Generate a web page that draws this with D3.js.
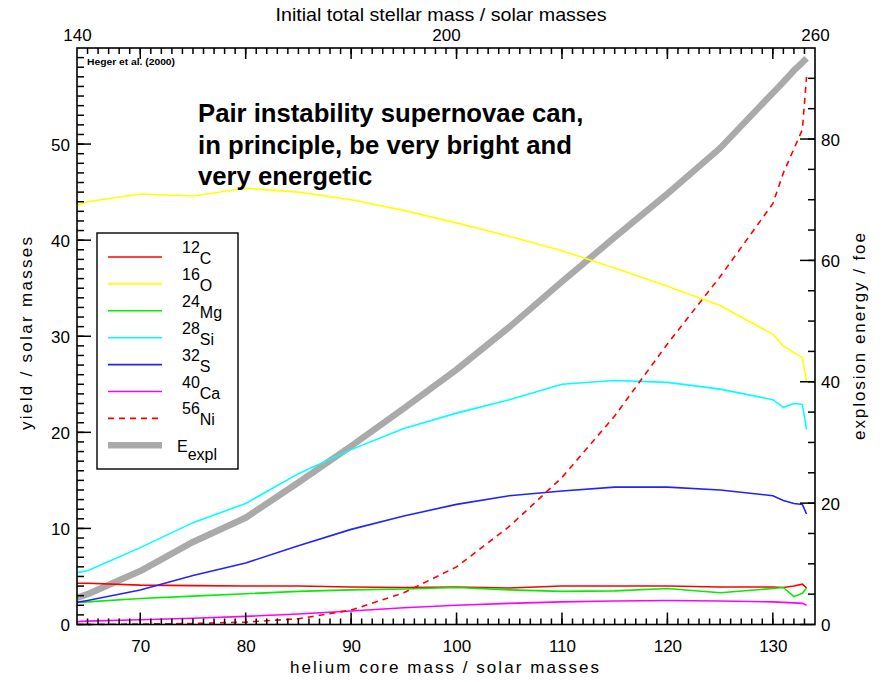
<!DOCTYPE html>
<html>
<head>
<meta charset="utf-8">
<script src="https://cdn.jsdelivr.net/npm/d3@7"></script>
<style>
  html, body { margin: 0; padding: 0; background: #fff; }
  svg { display: block; font-family: "Liberation Sans", Arial, Helvetica, sans-serif; }
</style>
</head>
<body>
<svg id="chart" width="886" height="682"></svg>
<script>
// Helium core mass grid (solar masses)
const heCoreMass = [64, 65, 70, 75, 80, 85, 90, 95, 100, 105, 110, 115, 120, 125, 130, 131, 132, 132.8, 133.2];

// Nucleosynthesis yields (solar masses)
const yieldC12  = [4.3, 4.3, 4.1, 4.05, 4.0, 4.0, 3.9, 3.85, 3.9, 3.8, 4.0, 4.0, 4.0, 3.9, 3.9, 3.85, 4.0, 4.2, 3.8];
const yieldO16  = [43.6, 44.0, 44.8, 44.6, 45.4, 45.0, 44.2, 43.1, 41.8, 40.4, 38.9, 37.1, 35.2, 33.2, 30.2, 29.0, 28.3, 27.8, 25.2];
const yieldMg24 = [2.3, 2.35, 2.7, 2.95, 3.2, 3.45, 3.6, 3.7, 3.85, 3.6, 3.45, 3.5, 3.75, 3.3, 3.75, 3.85, 2.9, 3.25, 3.8];
const yieldSi28 = [5.4, 5.6, 8.0, 10.6, 12.6, 15.7, 18.2, 20.4, 22.0, 23.4, 25.0, 25.4, 25.2, 24.5, 23.4, 22.6, 23.0, 22.9, 20.3];
const yieldS32  = [2.3, 2.5, 3.6, 5.1, 6.4, 8.2, 9.9, 11.3, 12.5, 13.4, 13.9, 14.3, 14.3, 14.0, 13.4, 12.9, 12.6, 12.5, 11.5];
const yieldCa40 = [0.3, 0.35, 0.5, 0.65, 0.85, 1.1, 1.4, 1.75, 2.0, 2.2, 2.35, 2.45, 2.5, 2.45, 2.35, 2.3, 2.25, 2.2, 2.0];
const yieldNi56 = [0.0, 0.0, 0.05, 0.1, 0.25, 0.6, 1.5, 3.3, 6.0, 10.2, 15.3, 21.7, 29.2, 36.2, 43.8, 47.0, 49.5, 51.5, 57.0];

// Explosion energy (foe)
const explosionEnergy = [4.4, 5.0, 8.8, 13.6, 17.6, 23.4, 29.4, 35.6, 42.0, 49.0, 56.5, 63.8, 71.0, 78.5, 87.6, 89.4, 91.3, 92.6, 93.3];

// Tick values
const bottomMajor = [70, 80, 90, 100, 110, 120, 130];
const bottomMinor = d3.range(65, 134);
const leftMajor = [0, 10, 20, 30, 40, 50];
const leftMinor = d3.range(1, 60);
const rightMajor = [0, 20, 40, 60, 80];
const rightMinor = d3.range(5, 95, 5);
const topLabels = [140, 200, 260];

const isotopes = [
  { mass: "12", el: "C",  values: yieldC12,  color: "#ff0000", dash: null },
  { mass: "16", el: "O",  values: yieldO16,  color: "#ffff00", dash: null },
  { mass: "24", el: "Mg", values: yieldMg24, color: "#00ee00", dash: null },
  { mass: "28", el: "Si", values: yieldSi28, color: "#00ffff", dash: null },
  { mass: "32", el: "S",  values: yieldS32,  color: "#2222ff", dash: null },
  { mass: "40", el: "Ca", values: yieldCa40, color: "#ff00ff", dash: null },
  { mass: "56", el: "Ni", values: yieldNi56, color: "#ff0000", dash: "6,5" }
];

const svg = d3.select("#chart");
const L = 77, R = 815, T = 48, B = 624.5;

const x = d3.scaleLinear().domain([64, 134]).range([L, R]);
const xTop = d3.scaleLinear().domain([140, 260]).range([L, R]);
const yL = d3.scaleLinear().domain([0, 60]).range([B, T]);
const yR = d3.scaleLinear().domain([0, 95]).range([B, T]);

const plot = svg.append("g");
const pts = vals => vals.map((v, i) => [heCoreMass[i], v]);

// Explosion energy (right axis), drawn underneath the yields
plot.append("path")
  .datum(pts(explosionEnergy))
  .attr("fill", "none")
  .attr("stroke", "#aaaaaa")
  .attr("stroke-width", 6.5)
  .attr("stroke-linejoin", "round")
  .attr("d", d3.line().x(d => x(d[0])).y(d => yR(d[1])));

// Isotope yields (left axis)
isotopes.forEach(s => {
  plot.append("path")
    .datum(pts(s.values))
    .attr("fill", "none")
    .attr("stroke", s.color)
    .attr("stroke-width", 1.6)
    .attr("stroke-dasharray", s.dash)
    .attr("d", d3.line().x(d => x(d[0])).y(d => yL(d[1])));
});

// Inward tick marks
const tickLayer = svg.append("g").attr("stroke", "black").attr("stroke-width", 1.5);
function hTicks(values, scale, y0, len) {
  tickLayer.append("g").selectAll("line").data(values).join("line")
    .attr("x1", d => scale(d)).attr("x2", d => scale(d))
    .attr("y1", y0).attr("y2", y0 + len);
}
function vTicks(values, scale, x0, len) {
  tickLayer.append("g").selectAll("line").data(values).join("line")
    .attr("y1", d => scale(d)).attr("y2", d => scale(d))
    .attr("x1", x0).attr("x2", x0 + len);
}
hTicks(bottomMinor, x, B, -6);
hTicks(bottomMajor, x, B, -12);
hTicks(bottomMinor, x, T, 6);
hTicks(bottomMajor, x, T, 11);
vTicks(leftMinor, yL, L, 7);
vTicks(leftMajor, yL, L, 14);
vTicks(rightMinor, yR, R, -7);
vTicks(rightMajor, yR, R, -15);

// Tick labels
function labelAxis(gen, tx, ty, dy) {
  const g = svg.append("g").attr("transform", `translate(${tx},${ty})`).call(gen);
  g.select(".domain").remove();
  g.selectAll(".tick line").remove();
  g.selectAll(".tick text").attr("fill", "#000").style("font-size", "17px");
  if (dy != null) g.selectAll(".tick text").attr("dy", dy);
  return g;
}
labelAxis(d3.axisBottom(x).tickValues(bottomMajor).tickSize(0).tickPadding(15), 0, B);
labelAxis(d3.axisTop(xTop).tickValues(topLabels).tickSize(0).tickPadding(7), 0, T, "0");
labelAxis(d3.axisLeft(yL).tickValues(leftMajor).tickSize(0).tickPadding(7), L, 0, "0.36em");
labelAxis(d3.axisRight(yR).tickValues(rightMajor).tickSize(0).tickPadding(6), R, 0, "0.36em");

// Frame
svg.append("rect")
  .attr("x", L).attr("y", T).attr("width", R - L).attr("height", B - T)
  .attr("fill", "none").attr("stroke", "#000").attr("stroke-width", 1.6);

// Axis titles
svg.append("text").attr("x", 441).attr("y", 21).attr("text-anchor", "middle")
  .attr("textLength", 331).attr("lengthAdjust", "spacingAndGlyphs")
  .style("font-size", "19px").text("Initial total stellar mass / solar masses");

svg.append("text").attr("x", 444.5).attr("y", 673).attr("text-anchor", "middle")
  .attr("textLength", 309).attr("lengthAdjust", "spacing")
  .style("font-size", "17px").text("helium core mass / solar masses");

svg.append("text").attr("transform", "translate(32,333.5) rotate(-90)").attr("text-anchor", "middle")
  .attr("textLength", 193).attr("lengthAdjust", "spacing")
  .style("font-size", "17px").text("yield / solar masses");

svg.append("text").attr("transform", "translate(865,336.5) rotate(-90)").attr("text-anchor", "middle")
  .attr("textLength", 207).attr("lengthAdjust", "spacing")
  .style("font-size", "17px").text("explosion energy / foe");

// Citation
svg.append("text").attr("x", 87).attr("y", 65)
  .attr("textLength", 88).attr("lengthAdjust", "spacingAndGlyphs")
  .style("font-size", "9px").style("font-weight", "bold").text("Heger et al. (2000)");

// Annotation
const note = ["Pair instability supernovae can,", "in principle, be very bright and", "very energetic"];
svg.append("g").selectAll("text").data(note).join("text")
  .attr("x", 198).attr("y", (d, i) => 122 + i * 31.5)
  .style("font-size", "25.7px").style("font-weight", "bold").attr("fill", "#000")
  .text(d => d);

// Legend
const leg = svg.append("g");
leg.append("rect").attr("x", 97).attr("y", 233).attr("width", 141).attr("height", 236)
  .attr("fill", "#fff").attr("stroke", "#000").attr("stroke-width", 1.4);

const rowY = i => 257 + i * 26.9;
isotopes.forEach((s, i) => {
  const yy = rowY(i);
  leg.append("line").attr("x1", 108).attr("x2", 162).attr("y1", yy).attr("y2", yy)
    .attr("stroke", s.color).attr("stroke-width", 1.6).attr("stroke-dasharray", s.dash);
  const t = leg.append("text").attr("x", 182).attr("y", yy - 4).style("font-size", "16px");
  t.append("tspan").text(s.mass);
  t.append("tspan").attr("dy", 11).text(s.el);
});
{
  const yy = rowY(7);
  leg.append("line").attr("x1", 108).attr("x2", 162).attr("y1", yy).attr("y2", yy)
    .attr("stroke", "#aaaaaa").attr("stroke-width", 6.5);
  const t = leg.append("text").attr("x", 177).attr("y", yy + 7).style("font-size", "16px");
  t.append("tspan").text("E");
  t.append("tspan").attr("dy", 8).text("expl");
}
</script>
</body>
</html>
